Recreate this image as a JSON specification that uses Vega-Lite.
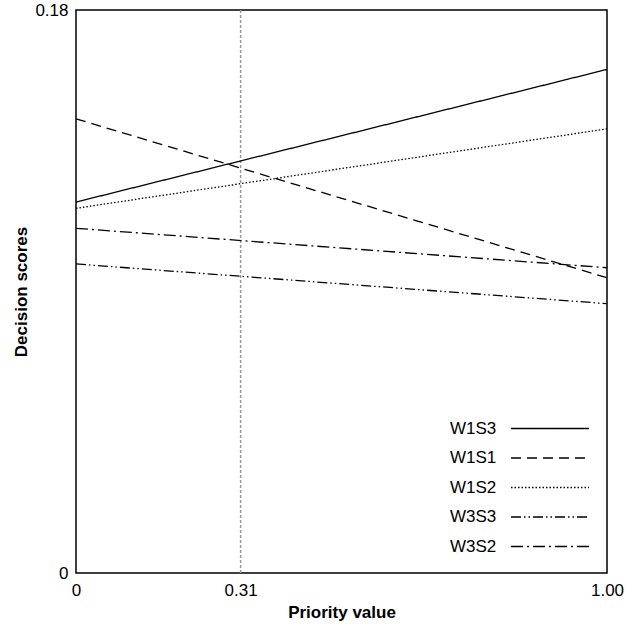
{
  "$schema": "https://vega.github.io/schema/vega-lite/v6.json",
  "width": 531,
  "height": 563,
  "autosize": "none",
  "padding": {"left": 76, "top": 10, "right": 34, "bottom": 54},
  "background": "white",
  "config": {
    "view": {"stroke": "#000", "strokeWidth": 1.5},
    "font": "Liberation Sans"
  },
  "datasets": {
    "lines": [
      {"series": "W1S3", "priority": 0, "score": 0.1186},
      {"series": "W1S3", "priority": 1, "score": 0.1610},
      {"series": "W1S1", "priority": 0, "score": 0.1452},
      {"series": "W1S1", "priority": 1, "score": 0.0944},
      {"series": "W1S2", "priority": 0, "score": 0.1166},
      {"series": "W1S2", "priority": 1, "score": 0.1420},
      {"series": "W3S3", "priority": 0, "score": 0.0988},
      {"series": "W3S3", "priority": 1, "score": 0.0861},
      {"series": "W3S2", "priority": 0, "score": 0.1102},
      {"series": "W3S2", "priority": 1, "score": 0.0976}
    ],
    "marker": [{"priority": 0.31}]
  },
  "encoding": {
    "x": {
      "field": "priority",
      "type": "quantitative",
      "scale": {"domain": [0, 1]},
      "axis": {
        "title": "Priority value",
        "values": [0, 0.31, 1],
        "labelExpr": "datum.value == 0 ? '0' : format(datum.value, '.2f')",
        "ticks": false,
        "domain": false,
        "grid": false,
        "labelFlush": false,
        "labelPadding": 9,
        "labelFontSize": 17,
        "labelColor": "#000",
        "titleFontSize": 17,
        "titleFontWeight": "bold",
        "titleColor": "#000",
        "titlePadding": 6
      }
    }
  },
  "layer": [
    {
      "data": {"name": "marker"},
      "mark": {"type": "rule", "color": "#999", "strokeDash": [3, 2], "strokeWidth": 1.5}
    },
    {
      "data": {"name": "lines"},
      "mark": {"type": "line", "color": "#000", "strokeWidth": 1.3},
      "encoding": {
        "y": {
          "field": "score",
          "type": "quantitative",
          "scale": {"domain": [0, 0.18]},
          "axis": {
            "title": "Decision scores",
            "values": [0, 0.18],
            "labelExpr": "datum.value == 0 ? '0' : format(datum.value, '.2f')",
            "ticks": false,
            "domain": false,
            "grid": false,
            "labelFlush": false,
            "labelPadding": 8,
            "labelFontSize": 17,
            "labelColor": "#000",
            "titleFontSize": 17,
            "titleFontWeight": "bold",
            "titleColor": "#000",
            "titlePadding": 4,
            "encode": {"labels": {"update": {"dy": {"signal": "datum.value > 0.1 ? 10 : -4"}}}}
          }
        },
        "strokeDash": {
          "field": "series",
          "type": "nominal",
          "scale": {
            "domain": ["W1S3", "W1S1", "W1S2", "W3S3", "W3S2"],
            "range": [[1, 0], [10, 6], [1.5, 2], [10, 3, 1.5, 3, 1.5, 3], [12, 4, 2, 4]]
          },
          "legend": {
            "title": null,
            "orient": "none",
            "legendX": 374,
            "legendY": 408,
            "padding": 0,
            "rowPadding": 10.5,
            "symbolType": "M-4,0H4",
            "symbolSize": 380,
            "symbolStrokeWidth": 1.3,
            "symbolStrokeColor": "#000",
            "symbolFillColor": "transparent",
            "labelFontSize": 17,
            "labelColor": "#000",
            "labelFont": "Liberation Sans",
            "encode": {
              "symbols": {"update": {"x": {"value": 100}}},
              "labels": {"update": {"x": {"value": 0}}}
            }
          }
        }
      }
    }
  ]
}
